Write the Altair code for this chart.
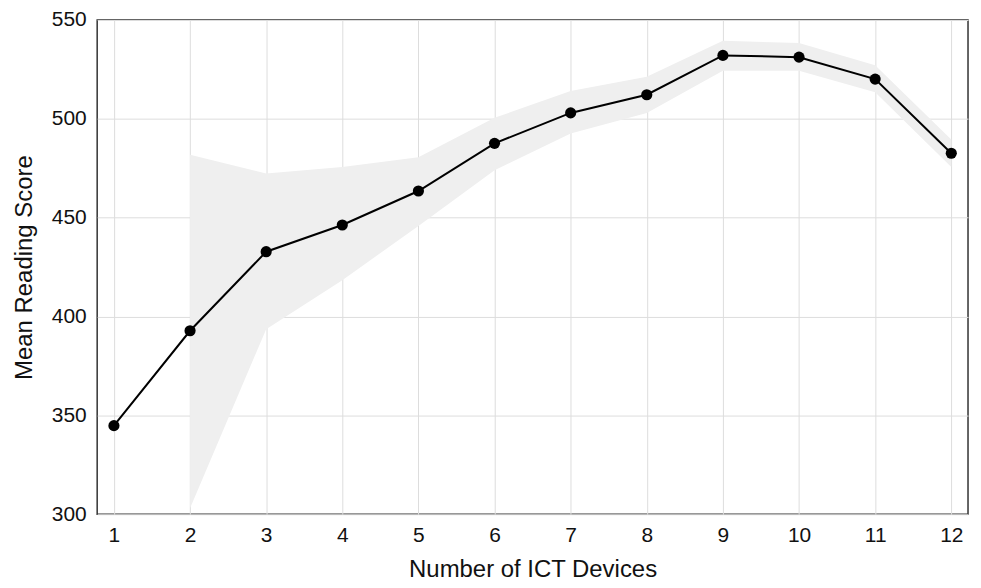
import altair as alt
import pandas as pd

devices = [1, 2, 3, 4, 5, 6, 7, 8, 9, 10, 11, 12]
mean_score = [344.8, 392.8, 432.8, 446.3, 463.5, 487.6, 503.0, 512.2, 532.1, 531.2, 520.1, 482.6]

band_devices = [2, 3, 4, 5, 6, 7, 8, 9, 10, 11, 12]
band_upper = [481.8, 472.3, 475.6, 480.6, 500.5, 514.1, 521.3, 539.5, 538.4, 527.1, 489.5]
band_lower = [303.0, 393.6, 418.4, 445.8, 474.0, 492.6, 503.0, 524.3, 524.3, 513.5, 475.6]

line_df = pd.DataFrame({"devices": devices, "score": mean_score})
band_df = pd.DataFrame({"devices": band_devices, "upper": band_upper, "lower": band_lower})

x_scale = alt.Scale(domain=[0.78, 12.22], nice=False, zero=False)
y_scale = alt.Scale(domain=[300, 550], nice=False, zero=False)

x_axis = alt.Axis(values=devices, format="d", title="Number of ICT Devices",
                  grid=True, ticks=False, domain=False, labelPadding=10,
                  titlePadding=13)
y_axis = alt.Axis(values=[300, 350, 400, 450, 500, 550], title="Mean Reading Score",
                  grid=True, ticks=False, domain=False, labelPadding=11,
                  titlePadding=15)

# shaded interval around the mean
band = (alt
    .Chart(band_df)
    .mark_area(color="#efefef", opacity=1, clip=True)
    .encode(
        x=alt.X("devices:Q", scale=x_scale, axis=x_axis),
        y=alt.Y("lower:Q", scale=y_scale, axis=y_axis),
        y2="upper:Q"
    )
)

line = (alt
    .Chart(line_df)
    .mark_line(color="black", strokeWidth=2)
    .encode(x=alt.X("devices:Q", scale=x_scale), y=alt.Y("score:Q", scale=y_scale))
)

points = (alt
    .Chart(line_df)
    .mark_circle(color="black", size=125, opacity=1)
    .encode(x=alt.X("devices:Q", scale=x_scale), y=alt.Y("score:Q", scale=y_scale))
)

chart = (alt
    .layer(band, line, points)
    .properties(width=874, height=496, autosize=alt.AutoSizeParams(type="none"),
                padding={"left": 89.5, "top": 11, "right": 5, "bottom": 72})
    .configure_view(stroke="#333333", strokeWidth=1.5)
    .configure_axis(gridColor="#dddddd", gridWidth=1, labelFont="Liberation Sans",
                    titleFont="Liberation Sans", labelFontSize=21, titleFontSize=24,
                    labelColor="#111111", titleColor="#111111", titleFontWeight="normal")
)

chart.save("out.html", embed_options={"renderer": "svg", "actions": False})
